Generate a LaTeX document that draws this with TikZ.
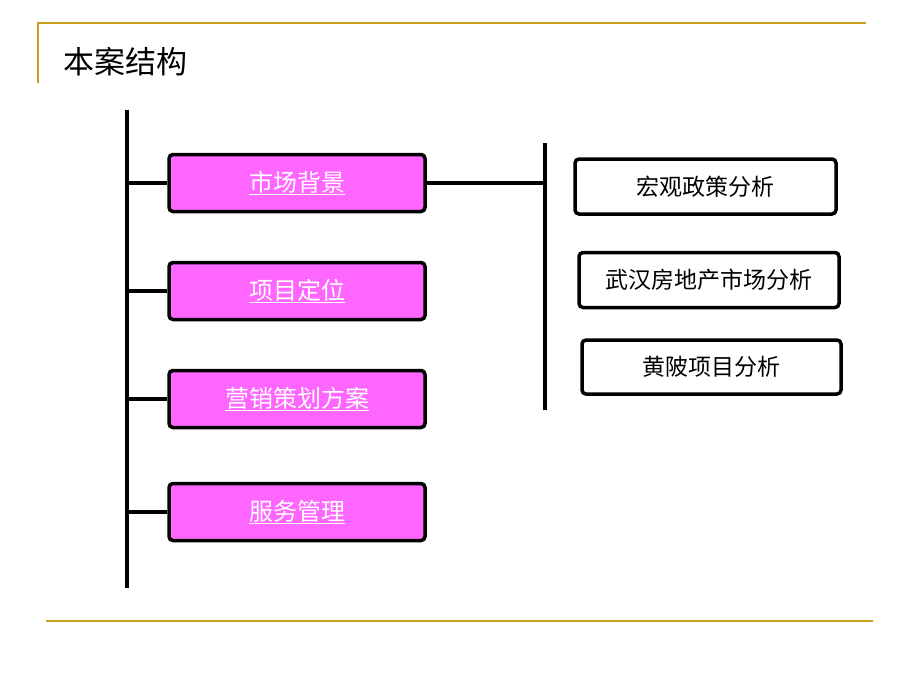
\documentclass[tikz,border=0pt]{standalone}
\usepackage{fontspec}
\setmainfont{Noto Sans CJK SC}
\definecolor{gold}{RGB}{200,160,30}
\definecolor{pinkbox}{RGB}{255,102,255}
\tikzset{
  part/.style={draw=black, line width=3.5pt, rounded corners=4pt, fill=pinkbox,
    minimum width=256pt, minimum height=57pt, text=white,
    font=\fontsize{24}{28}\selectfont},
  item/.style={draw=black, line width=3.5pt, rounded corners=4pt, fill=white,
    minimum height=55pt, font=\fontsize{23}{27}\selectfont},
  link/.style={line width=3.5pt},
}
\begin{document}
\begin{tikzpicture}[x=1pt,y=-1pt]
    \useasboundingbox (0,0) rectangle (920,690);
    % frame
    \draw [gold, line width=2pt] (38,83) -- (38,23) -- (866,23);
    \draw [gold, line width=2pt] (46,621) -- (873,621);
    \node [anchor=west, font=\fontsize{31}{36}\selectfont] (title) at (60,62) {本案结构};
    % spine
    \coordinate (s1) at (127,110);
    \coordinate (s2) at (127,588);
    \draw [link] (s1) -- (s2);
    \node [part] (p1) at (297,183) {\underline{市场背景}};
    \node [part] (p2) at (297,291) {\underline{项目定位}};
    \node [part] (p3) at (297,399) {\underline{营销策划方案}};
    \node [part] (p4) at (297,512) {\underline{服务管理}};
    \draw [link] (p1.west -| s1) -- (p1.west);
    \draw [link] (p2.west -| s1) -- (p2.west);
    \draw [link] (p3.west -| s1) -- (p3.west);
    \draw [link] (p4.west -| s1) -- (p4.west);
    % branch
    \coordinate (b1) at (545,143);
    \coordinate (b2) at (545,410);
    \draw [link] (b1) -- (b2);
    \draw [link] (p1.east) -- (p1.east -| b1);
    \node [item, minimum width=261pt] (i1) at (705.5,186.5) {宏观政策分析};
    \node [item, minimum width=260pt] (i2) at (709,280) {武汉房地产市场分析};
    \node [item, minimum width=259pt, minimum height=54pt] (i3) at (711.5,367) {黄陂项目分析};
  \end{tikzpicture}
\end{document}
